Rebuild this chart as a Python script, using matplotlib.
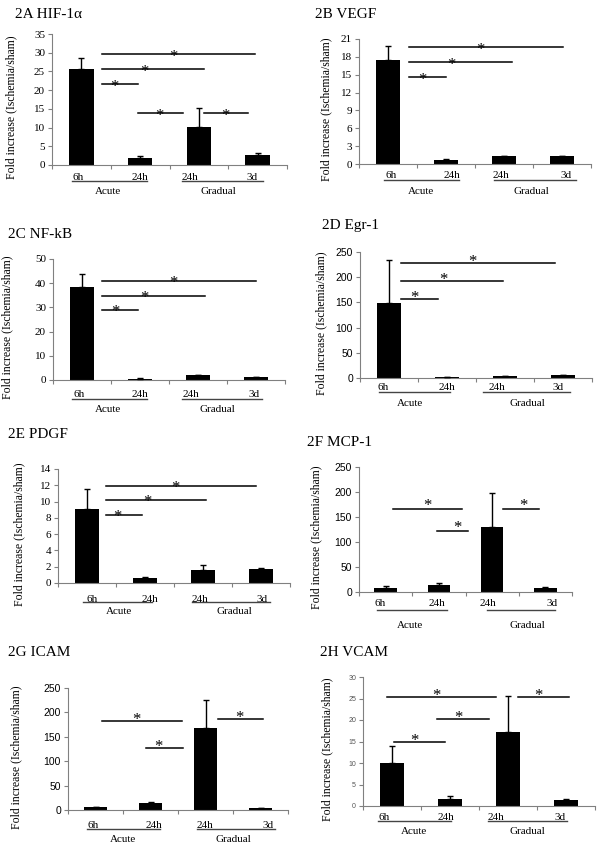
import numpy as np
import matplotlib.pyplot as plt

plt.rcParams['font.family'] = 'Liberation Serif'

times = ["6h", "24h", "24h", "3d"]
groups = ["Acute", "Gradual"]
ylabel = "Fold increase (Ischemia/sham)"
titles = ["2A HIF-1\u03b1", "2B VEGF", "2C NF-kB", "2D Egr-1",
          "2E PDGF", "2F MCP-1", "2G ICAM", "2H VCAM"]

# mean fold increase and upper error per group (6h acute, 24h acute, 24h gradual, 3d gradual)
hif_vals = [25.7, 2.0, 10.2, 2.8]
hif_err = [3.0, 0.3, 5.0, 0.3]
vegf_vals = [17.4, 0.7, 1.3, 1.3]
vegf_err = [2.4, 0.1, 0.05, 0.05]
nfkb_vals = [38.4, 0.6, 1.9, 1.1]
nfkb_err = [5.4, 0.3, 0.2, 0.1]
egr_vals = [148, 1.0, 3.3, 5.0]
egr_err = [87, 0.3, 1.0, 1.0]
pdgf_vals = [9.1, 0.6, 1.6, 1.75]
pdgf_err = [2.4, 0.15, 0.6, 0.05]
mcp_vals = [8.7, 15.0, 130.7, 8.7]
mcp_err = [2.5, 3.0, 68, 1.0]
icam_vals = [5.5, 13.5, 168, 3.4]
icam_err = [1.0, 3.5, 58, 0.6]
vcam_vals = [10.0, 1.7, 17.1, 1.3]
vcam_err = [4.0, 0.6, 8.4, 0.25]

# significance lines: (x start, x end, height, star x)
hif_sig = [(0.35, 2.96, 29.7, 1.56), (0.35, 2.09, 25.6, 1.07), (0.35, 0.96, 21.7, 0.57),
           (0.97, 1.73, 13.9, 1.32), (2.09, 2.84, 13.9, 2.45)]
vegf_sig = [(0.36, 3.02, 19.6, 1.6), (0.36, 2.14, 17.1, 1.1), (0.36, 1.0, 14.6, 0.6)]
nfkb_sig = [(0.34, 3.0, 40.9, 1.57), (0.34, 2.12, 34.8, 1.07), (0.34, 0.97, 28.8, 0.57)]
egr_sig = [(0.21, 2.86, 228, 1.43), (0.21, 1.97, 192, 0.93), (0.21, 0.84, 156, 0.43)]
pdgf_sig = [(0.33, 2.91, 11.96, 1.52), (0.33, 2.05, 10.2, 1.04), (0.33, 0.95, 8.3, 0.53)]
mcp_sig = [(0.14, 1.43, 165.5, 0.79), (0.96, 1.55, 122, 1.34), (2.2, 2.88, 165.5, 2.58)]
icam_sig = [(0.12, 1.57, 181.5, 0.74), (0.92, 1.59, 126.7, 1.14), (2.23, 3.05, 187, 2.61)]
vcam_sig = [(0.03, 0.91, 15.0, 0.38), (0.78, 1.67, 20.2, 1.14), (-0.09, 1.79, 25.25, 0.76),
            (2.17, 3.05, 25.25, 2.52)]

vals = [hif_vals, vegf_vals, nfkb_vals, egr_vals, pdgf_vals, mcp_vals, icam_vals, vcam_vals]
errs = [hif_err, vegf_err, nfkb_err, egr_err, pdgf_err, mcp_err, icam_err, vcam_err]
sigs = [hif_sig, vegf_sig, nfkb_sig, egr_sig, pdgf_sig, mcp_sig, icam_sig, vcam_sig]
ymaxs = [35, 21, 50, 250, 14, 250, 250, 30]
ysteps = [5, 3, 10, 50, 2, 50, 50, 5]

# layout in pixels: axes box (left, top, right, bottom), title position
boxes = [(52, 34, 287, 165), (359, 39, 591, 164), (53, 259, 285, 380), (360, 252, 592, 378),
         (58, 469, 290, 583), (359, 467, 572, 592), (68, 688, 288, 810), (363, 677, 595, 806)]
title_pos = [(15, 15), (315, 15), (8, 235), (322, 225), (8, 435), (307, 442), (8, 653), (320, 653)]
ylab_x = [17, 332, 13, 327, 25, 322, 22, 333]
# px below axis: time labels, underline, group label
lab_dy = [(12, 16, 27), (12, 16, 27), (15, 19, 30), (10, 14, 25),
          (17, 19, 29), (11, 18, 34), (15, 19, 30), (11, 15, 26)]
time_x = [(-0.05, 1.0, 1.85, 2.9), (0.05, 1.1, 1.95, 3.07), (-0.05, 1.0, 1.88, 2.97),
          (-0.1, 1.0, 1.86, 2.91), (0.09, 1.09, 1.95, 3.02), (-0.11, 0.96, 1.92, 3.12),
          (-0.05, 1.06, 1.99, 3.14), (-0.14, 0.93, 1.79, 2.9)]
line_x = [(-0.16, 1.12, 1.71, 3.09), (-0.07, 1.22, 1.83, 3.24), (-0.17, 1.12, 1.72, 3.1),
          (-0.17, 1.05, 1.62, 3.12), (-0.07, 1.12, 1.81, 3.16), (-0.16, 1.15, 1.9, 3.18),
          (-0.15, 1.17, 1.84, 3.26), (-0.24, 1.02, 1.66, 3.02)]
group_x = [(0.45, 2.33), (0.57, 2.47), (0.45, 2.33), (0.36, 2.38),
           (0.55, 2.55), (0.46, 2.67), (0.5, 2.5), (0.38, 2.34)]
star_dy = [-3, -3, -2, 1, -2, 3, 1, 1]
tick_font = ['serif', 'serif', 'serif', 'sans', 'serif', 'sans', 'sans', 'small']

W, H = 602, 850
fig = plt.figure(figsize=(W / 100, H / 100), dpi=100)
gray = '#808080'

for i in range(8):
    l, t, r, b = boxes[i]
    hpx, wpx = b - t, r - l
    ax = fig.add_axes([l / W, 1 - b / H, wpx / W, hpx / H])
    x = np.arange(4)
    ax.bar(x, vals[i], width=0.42, color='black', zorder=2)
    ax.errorbar(x, vals[i], yerr=[np.zeros(4), errs[i]], fmt='none', ecolor='black',
                elinewidth=1, capsize=2, capthick=1, zorder=3)
    ax.set_xlim(-0.5, 3.5)
    ax.set_ylim(0, ymaxs[i])
    ax.set_yticks(np.arange(0, ymaxs[i] + 0.01, ysteps[i]))
    ax.set_xticks([])
    ax.set_xticks([-0.5, 0.5, 1.5, 2.5, 3.5], minor=True)
    ax.tick_params(axis='x', which='minor', length=3, width=0.8, color=gray)
    for s in ['top', 'right']:
        ax.spines[s].set_visible(False)
    for s in ['left', 'bottom']:
        ax.spines[s].set_color(gray)
        ax.spines[s].set_linewidth(0.8)
    if tick_font[i] == 'serif':
        ax.tick_params(axis='y', length=3, width=0.8, color=gray, labelsize=8, pad=2)
    elif tick_font[i] == 'sans':
        ax.tick_params(axis='y', length=3, width=0.8, color=gray, labelsize=7.5, pad=2)
        for lab in ax.get_yticklabels():
            lab.set_family('Liberation Sans')
    else:
        ax.tick_params(axis='y', length=3, width=0.8, color=gray, labelsize=5,
                       labelcolor='#555555', pad=2)
        for lab in ax.get_yticklabels():
            lab.set_family('Liberation Sans')

    ax.set_ylabel(ylabel, fontsize=8.5)
    ax.yaxis.set_label_coords((ylab_x[i] - l) / wpx, 0.5 - 8 / hpx)

    trans = ax.get_xaxis_transform()
    d1, d2, d3 = lab_dy[i]
    for tx, lab in zip(time_x[i], times):
        ax.text(tx, -d1 / hpx, lab, transform=trans, ha='center', va='center', fontsize=8)
    lx = line_x[i]
    for k in range(2):
        ax.plot([lx[2 * k], lx[2 * k + 1]], [-d2 / hpx, -d2 / hpx], transform=trans,
                color='#444444', lw=1, clip_on=False)
        ax.text(group_x[i][k], -d3 / hpx, groups[k], transform=trans, ha='center',
                va='center', fontsize=8)

    for x0, x1, y, sx in sigs[i]:
        ax.plot([x0, x1], [y, y], color='black', lw=1.1, clip_on=False)
        ax.annotate('*', xy=(sx, y), xytext=(0, star_dy[i] * 0.72), textcoords='offset points',
                    ha='center', va='center', fontsize=12)

    tx, ty = title_pos[i]
    fig.text(tx / W, 1 - ty / H, titles[i], ha='left', va='center', fontsize=11)

fig.savefig('out.png', dpi=100)
